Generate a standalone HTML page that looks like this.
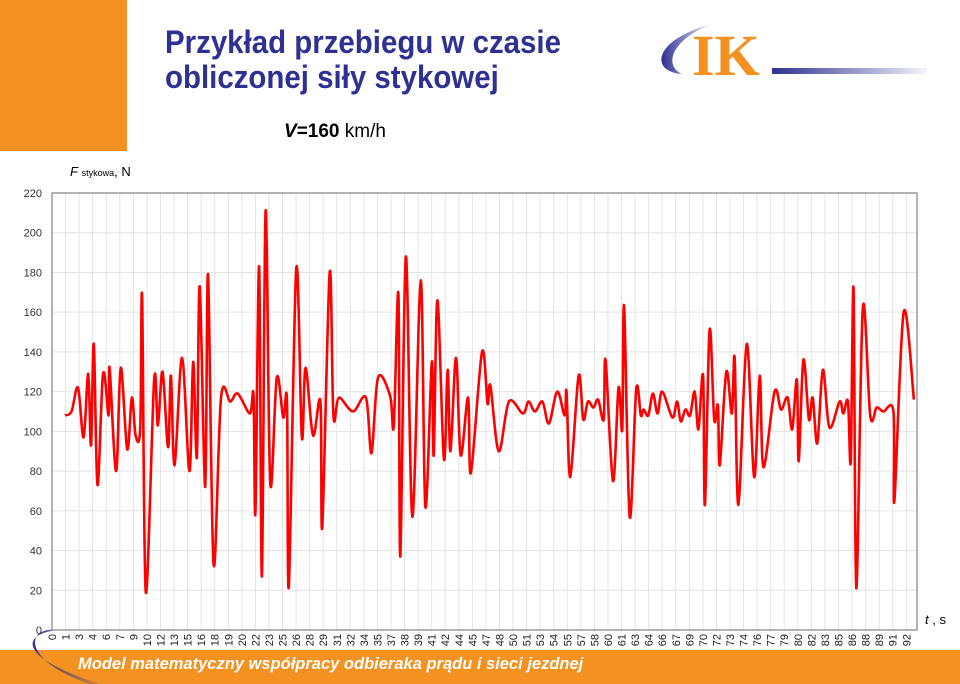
<!DOCTYPE html>
<html><head><meta charset="utf-8"><style>
body{margin:0;width:960px;height:684px;overflow:hidden;background:#fff;font-family:"Liberation Sans",sans-serif;position:relative}
.abs{position:absolute}
</style></head><body>
<div class="abs" style="left:0;top:0;width:127px;height:151px;background:#f39220"></div>
<div class="abs" style="left:165px;top:25px;color:#2e3192;font-weight:bold;font-size:32px;line-height:35px;transform:scaleX(0.92);transform-origin:left;white-space:nowrap">Przykład przebiegu w czasie<br>obliczonej siły stykowej</div>
<svg class="abs" style="left:640px;top:10px" width="300" height="80">
<defs><linearGradient id="lg" x1="0" x2="1"><stop offset="0" stop-color="#2e3192"/><stop offset="1" stop-color="#2e3192" stop-opacity="0.05"/></linearGradient>
<linearGradient id="ag" x1="0" x2="1"><stop offset="0" stop-color="#2e3192"/><stop offset="1" stop-color="#2e3192" stop-opacity="0.1"/></linearGradient></defs>
<path d="M42,64 C10,62 12,30 72,14 C30,30 24,56 42,64 Z" fill="url(#ag)"/>
<text x="52" y="65" font-family="Liberation Serif,serif" font-weight="bold" font-size="58" fill="#f39220">IK</text>
<rect x="132" y="58" width="155" height="6" fill="url(#lg)"/>
</svg>
<div class="abs" style="left:284px;top:121px;font-size:19px;color:#000"><b><i>V</i>=160</b> km/h</div>
<div class="abs" style="left:70px;top:164px;font-size:13px;color:#000"><i>F</i> <span style="font-size:9px">stykowa</span>, N</div>
<div class="abs" style="left:925px;top:612px;font-size:13px;color:#000"><i>t</i> , s</div>
<div class="abs" style="left:0;top:650px;width:960px;height:34px;background:#f39220"></div>
<svg class="abs" style="left:0;top:620px" width="120" height="64">
<defs><linearGradient id="sg" x1="0" x2="1"><stop offset="0" stop-color="#2e3192"/><stop offset="1" stop-color="#2e3192" stop-opacity="0.15"/></linearGradient></defs>
<path d="M60,10 C25,12 10,35 100,64 L90,64 C20,40 25,5 60,10 Z" fill="url(#sg)"/>
</svg>
<div class="abs" style="left:78px;top:655px;color:#fff;font-weight:bold;font-style:italic;font-size:16.5px">Model matematyczny współpracy odbieraka prądu i sieci jezdnej</div>
<svg id="chart" class="abs" style="left:0;top:0" width="960" height="684"></svg>
<script>
const yTicks=[0,20,40,60,80,100,120,140,160,180,200,220];
const xLabels=[0,1,3,4,6,7,9,10,12,13,15,16,18,19,20,22,23,25,26,28,29,31,32,34,35,37,38,39,41,42,44,45,47,48,50,51,53,54,55,57,58,60,61,63,64,66,67,69,70,72,73,74,76,77,79,80,82,83,85,86,88,89,91,92];
const times=[1.4,2.1,2.8,3.4,3.9,4.2,4.5,4.9,5.5,6.1,6.2,6.9,7.4,8.1,8.6,9.0,9.5,9.7,10.1,11.0,11.4,11.9,12.5,12.8,13.2,14.0,14.8,15.2,15.6,15.9,16.5,16.8,17.4,18.2,19.2,20.0,21.3,21.7,21.9,22.3,22.6,23.0,23.5,24.2,24.9,25.3,25.5,26.3,26.9,27.3,28.1,28.9,29.1,29.9,30.3,30.9,32.4,33.8,34.4,35.1,36.4,36.8,37.3,37.5,38.1,38.8,39.7,40.2,40.9,41.1,41.5,42.2,42.6,42.9,43.5,44.0,44.8,45.1,46.3,46.9,47.2,48.1,49.2,50.7,51.3,52.0,52.8,53.5,54.4,55.2,55.4,55.8,56.7,57.2,57.7,58.3,58.8,59.4,59.6,60.4,61.0,61.4,61.6,62.2,62.9,63.4,63.7,64.2,64.7,65.2,65.7,66.8,67.3,67.7,68.2,68.7,69.2,69.6,70.1,70.3,70.8,71.3,71.7,71.9,72.6,73.2,73.5,73.9,74.8,75.6,76.2,76.6,77.8,78.5,79.2,79.7,80.2,80.4,80.9,81.5,81.9,82.4,83.0,83.7,84.8,85.2,85.7,86.0,86.3,86.6,87.3,88.1,88.8,89.5,90.6,90.7,91.7,92.8];
const forces=[108,110,122,97,129,93,144,73,129,108,132,80,132,91,117,98,102,168,19,126,103,130,92,128,83,137,80,135,87,173,72,179,33,117,115,119,109,118,59,183,27,211,74,127,107,115,22,182,97,132,98,115,52,180,108,117,110,117,89,127,118,103,169,37,188,57,176,62,135,88,166,86,131,90,137,88,117,79,140,114,123,90,115,109,115,110,115,104,120,108,120,77,128,106,115,112,116,106,136,75,122,101,163,57,121,108,111,108,119,109,120,107,115,105,111,108,120,101,128,63,151,106,113,83,130,109,137,63,144,77,128,82,120,111,117,101,126,85,136,106,117,94,131,102,115,109,115,85,172,21,162,108,112,110,110,65,160,116];
const NS='http://www.w3.org/2000/svg';
const svg=document.getElementById('chart');
const L=52,R=917,T=193,B=630,step=13.56;
const yS=v=>B-(v/220)*(B-T);
const xS=t=>L+t/1.46*step;
function mk(tag,at){const e=document.createElementNS(NS,tag);for(const k in at)e.setAttribute(k,at[k]);svg.appendChild(e);return e;}
xLabels.forEach((lab,i)=>{const x=L+i*step;
 if(i>0){const g=mk('line',{x1:x,x2:x,y1:T,y2:B,stroke:'#e4e4e4','stroke-width':1});
 
 }
 const t=mk('text',{x:0,y:0,'font-size':11,fill:'#222','text-anchor':'end',transform:`translate(${x+4},${634}) rotate(-90)`});
 t.textContent=lab;
 
 
});
yTicks.forEach(v=>{const y=yS(v);
 if(v>0&&v<220){const g=mk('line',{x1:L,x2:R,y1:y,y2:y,stroke:'#e4e4e4','stroke-width':1});
 
 }
 const t=mk('text',{x:42,y:y+4,'font-size':11,fill:'#333','text-anchor':'end'});
 t.textContent=v;
 
 
});
const fr=mk('rect',{x:L,y:T,width:R-L,height:B-T,fill:'none',stroke:'#9a9a9a','stroke-width':1.5});


const P=times.map((t,i)=>[xS(t),yS(forces[i])]);
let d=`M${P[0][0]},${P[0][1]}`;
for(let i=0;i<P.length-1;i++){const p0=P[i-1]||P[i],p1=P[i],p2=P[i+1],p3=P[i+2]||P[i+1];
 const c1=[p1[0]+(p2[0]-p0[0])/6,p1[1]+(p2[1]-p0[1])/6],c2=[p2[0]-(p3[0]-p1[0])/6,p2[1]-(p3[1]-p1[1])/6];
 d+=` C${c1[0]},${c1[1]} ${c2[0]},${c2[1]} ${p2[0]},${p2[1]}`;}
const ln=mk('path',{d:d,fill:'none',stroke:'#ff0000','stroke-width':2.6,'stroke-linejoin':'round'});


</script>
</body></html>
